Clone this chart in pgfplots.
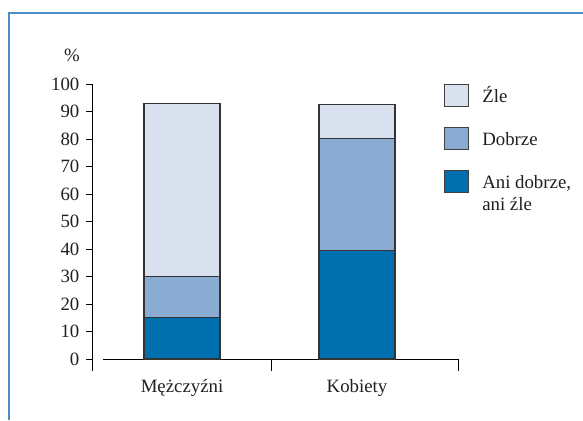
\documentclass[border=0pt]{standalone}
\usepackage{fontspec}
\setmainfont{Liberation Serif}
\usepackage{pgfplots}
\pgfplotsset{compat=1.18}
\definecolor{cLight}{RGB}{218,225,238}
\definecolor{cMid}{RGB}{139,172,210}
\definecolor{cDark}{RGB}{0,111,174}
\definecolor{cFrame}{RGB}{74,141,200}
\definecolor{cText}{RGB}{35,31,32}
\pgfplotsset{sqlegend/.style={legend image code/.code={\draw[#1,draw=black!75,line width=0.6pt] (0pt,-2.2pt) rectangle (12pt,8.8pt);}}}
\begin{document}
\fontsize{9.4}{11}\selectfont
\begin{tikzpicture}
\useasboundingbox (0,0) rectangle (291.5pt,210pt);
\draw[cFrame, line width=1pt] (4.5pt,0) -- (4.5pt,203.5pt) -- (291.5pt,203.5pt);
\begin{axis}[
  at={(46pt,24.5pt)}, anchor=south west,
  scale only axis, width=183pt, height=143.5pt,
  xmin=-0.5143, xmax=1.577, ymin=-4.36, ymax=100,
  ybar stacked, bar width=38pt,
  axis lines*=left,
  x axis line style={draw=none},
  y axis line style={line width=0.5pt, black},
  xtick={0,1}, xticklabels={Mężczyźni, Kobiety},
  xtick style={draw=none},
  xticklabel style={yshift=2pt},
  ytick={0,10,...,100},
  tick align=outside, major tick length=3pt,
  ytick style={line width=0.5pt, black},
  /pgf/number format/assume math mode=true,
  tick label style={text=cText},
  ylabel={\%},
  y label style={at={(axis description cs:-0.055,1.101)}, rotate=-90, anchor=center, text=cText},
  clip=false,
  legend style={at={(axis description cs:0.962,1.0)}, anchor=north west, draw=none, fill=none, inner sep=0pt, outer sep=0pt, row sep=9.9pt, text=cText,
    nodes={inner sep=0pt, anchor=base west},
    /tikz/every odd column/.append style={column sep=6.5pt}},
  legend cell align=left,
  reverse legend,
]
\addplot[fill=cDark, draw=black!80, line width=0.6pt, sqlegend] coordinates {(0,15.2) (1,39.6)};
\addlegendentry{\begin{tabular}[t]{@{}l@{}}Ani dobrze,\\ani źle\end{tabular}}
\addplot[fill=cMid, draw=black!80, line width=0.6pt, sqlegend] coordinates {(0,14.9) (1,40.7)};
\addlegendentry{Dobrze}
\addplot[fill=cLight, draw=black!80, line width=0.6pt, sqlegend] coordinates {(0,62.7) (1,12.2)};
\addlegendentry{Źle}
\draw[black, line width=0.5pt] (axis cs:-0.451,0) -- (axis cs:1.577,0);
\draw[black, line width=0.5pt] (axis cs:0.509,0) -- (axis cs:0.509,-4.36);
\draw[black, line width=0.5pt] (axis cs:1.577,0) -- (axis cs:1.577,-4.36);
\end{axis}
\end{tikzpicture}
\end{document}
